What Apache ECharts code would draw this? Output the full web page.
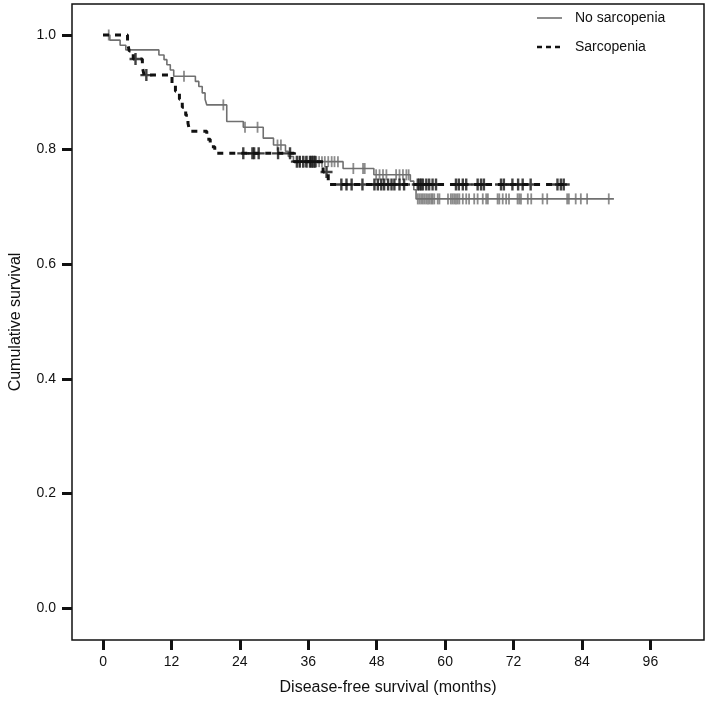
<!DOCTYPE html>
<html>
<head>
<meta charset="utf-8">
<script src="https://cdn.jsdelivr.net/npm/echarts@6/dist/echarts.min.js"></script>
<style>
html,body{margin:0;padding:0;background:#fff;}
#chart{width:709px;height:702px;}
</style>
</head>
<body>
<div id="chart"></div>
<script>
// ---- Data ----
const xTicks = [0, 12, 24, 36, 48, 60, 72, 84, 96];
const yTicks = [0.0, 0.2, 0.4, 0.6, 0.8, 1.0];

const seriesNames = ['No sarcopenia', 'Sarcopenia'];

// No sarcopenia: Kaplan-Meier steps (time in months, cumulative survival after the step)
const noSarcTimes = [0, 1.2, 3.0, 4.0, 9.8, 10.7, 11.2, 11.8, 12.4, 16.2, 16.8, 17.4, 17.9, 18.2, 21.7, 24.6, 28.1, 29.9, 32.0, 32.5, 33.4, 42.1, 47.5, 53.9, 54.5, 54.9, 89.6];
const noSarcSurv  = [1.0, 0.991, 0.982, 0.974, 0.965, 0.957, 0.948, 0.939, 0.928, 0.919, 0.910, 0.899, 0.888, 0.878, 0.849, 0.839, 0.820, 0.808, 0.797, 0.788, 0.779, 0.767, 0.756, 0.745, 0.730, 0.714, 0.714];
const noSarcCensor = [1.0, 14.2, 21.1, 24.9, 27.1, 30.6, 31.2, 34.5, 35.5, 36.4, 37.4, 37.9, 38.4, 38.9, 39.5, 40.1, 40.6, 41.2, 43.9, 45.6, 45.9, 47.9, 48.5, 49.1, 49.7, 51.4, 52.0, 52.6, 53.2, 53.6, 55.2, 55.5, 55.8, 56.1, 56.4, 56.7, 57.0, 57.3, 57.6, 57.8, 58.1, 58.7, 59.0, 60.5, 61.0, 61.3, 61.6, 61.9, 62.2, 62.5, 63.1, 63.7, 64.2, 65.1, 65.7, 66.6, 67.2, 67.5, 69.2, 69.5, 70.1, 70.7, 71.2, 72.7, 73.0, 73.3, 74.5, 75.1, 77.1, 77.9, 81.4, 81.7, 82.9, 83.8, 84.9, 88.7];

// Sarcopenia
const sarcTimes = [0, 4.3, 4.6, 5.3, 6.9, 7.2, 12.1, 12.7, 13.4, 13.9, 14.5, 14.9, 15.2, 18.2, 18.8, 19.6, 33.5, 38.6, 39.5, 81.1];
const sarcSurv  = [1.0, 0.986, 0.972, 0.958, 0.944, 0.930, 0.916, 0.902, 0.888, 0.874, 0.860, 0.846, 0.832, 0.818, 0.805, 0.7935, 0.779, 0.761, 0.739, 0.739];
const sarcCensor = [5.7, 7.6, 24.6, 26.2, 26.5, 27.3, 30.7, 32.8, 34.0, 34.5, 35.1, 35.7, 36.3, 36.6, 36.9, 37.2, 39.2, 41.8, 42.7, 43.6, 45.5, 47.6, 48.2, 48.8, 49.3, 50.0, 50.6, 51.1, 52.0, 52.8, 55.2, 55.5, 55.8, 56.1, 56.7, 57.2, 57.8, 58.4, 61.9, 62.4, 63.1, 63.7, 65.7, 66.3, 66.8, 69.8, 70.3, 71.8, 72.8, 73.6, 75.0, 79.7, 80.3, 80.8];

// ---- helpers ----
function pairs(ts, ss) { return ts.map((t, i) => [t, ss[i]]); }
function survAt(ts, ss, t) {
  let v = ss[0];
  for (let i = 0; i < ts.length; i++) { if (ts[i] <= t) v = ss[i]; else break; }
  return v;
}
function censorPts(cs, ts, ss) { return cs.map(t => [t, survAt(ts, ss, t)]); }

const FONT = '"Liberation Sans", Arial, sans-serif';
const GREY = '#707070';
const BLACK = '#111111';
const plusPath = 'path://M4,0h2v4h4v2h-4v4h-2v-4h-4v-2h4z';

const chart = echarts.init(document.getElementById('chart'), null, { renderer: 'canvas' });
chart.setOption({
  animation: false,
  backgroundColor: '#ffffff',
  grid: { left: 69.5, right: 5, top: 4, bottom: 62, show: true, borderColor: '#111', borderWidth: 1.5, backgroundColor: 'transparent' },
  graphic: [
    { type: 'line', shape: { x1: 537, y1: 18, x2: 562, y2: 18 }, style: { stroke: GREY, lineWidth: 1.6 } },
    { type: 'text', x: 575, y: 18, style: { text: seriesNames[0], fill: '#111', font: '14px ' + FONT, verticalAlign: 'middle' } },
    { type: 'line', shape: { x1: 537, y1: 47, x2: 563, y2: 47 }, style: { stroke: BLACK, lineWidth: 2.5, lineDash: [5, 4] } },
    { type: 'text', x: 575, y: 47, style: { text: seriesNames[1], fill: '#111', font: '14px ' + FONT, verticalAlign: 'middle' } }
  ],
  xAxis: {
    type: 'value', min: -5.44, max: 105.4,
    name: 'Disease-free survival (months)', nameLocation: 'middle', nameGap: 40,
    nameTextStyle: { fontFamily: FONT, fontSize: 16, color: '#111' },
    axisLine: { show: false, onZero: false },
    axisTick: { show: true, inside: false, length: 10, customValues: xTicks, lineStyle: { color: '#111', width: 3 } },
    axisLabel: { customValues: xTicks, margin: 15, fontFamily: FONT, fontSize: 14, color: '#111' },
    splitLine: { show: false }
  },
  yAxis: {
    type: 'value', min: -0.0558, max: 1.0541,
    name: 'Cumulative survival', nameLocation: 'middle', nameGap: 48,
    nameTextStyle: { fontFamily: FONT, fontSize: 16, color: '#111' },
    axisLine: { show: false, onZero: false },
    axisTick: { show: true, inside: false, length: 10, customValues: yTicks, lineStyle: { color: '#111', width: 3 } },
    axisLabel: { customValues: yTicks, margin: 16, fontFamily: FONT, fontSize: 14, color: '#111', formatter: v => v.toFixed(1) },
    splitLine: { show: false }
  },
  series: [
    {
      name: seriesNames[0], type: 'line', step: 'end', symbol: 'none', z: 2,
      data: pairs(noSarcTimes, noSarcSurv),
      lineStyle: { color: GREY, width: 1.6 }, itemStyle: { color: GREY }
    },
    {
      name: seriesNames[0] + ' censored', type: 'scatter', z: 3,
      symbol: 'rect', symbolSize: [1.8, 11],
      data: censorPts(noSarcCensor, noSarcTimes, noSarcSurv),
      itemStyle: { color: GREY }
    },
    {
      name: seriesNames[1], type: 'line', step: 'end', symbol: 'none', z: 4,
      data: pairs(sarcTimes, sarcSurv),
      lineStyle: { color: BLACK, width: 3, type: [6, 6] }, itemStyle: { color: BLACK }
    },
    {
      name: seriesNames[1] + ' censored', type: 'scatter', z: 5,
      symbol: plusPath, symbolSize: [12, 12],
      data: censorPts(sarcCensor, sarcTimes, sarcSurv),
      itemStyle: { color: BLACK }
    }
  ]
});
</script>
</body>
</html>
